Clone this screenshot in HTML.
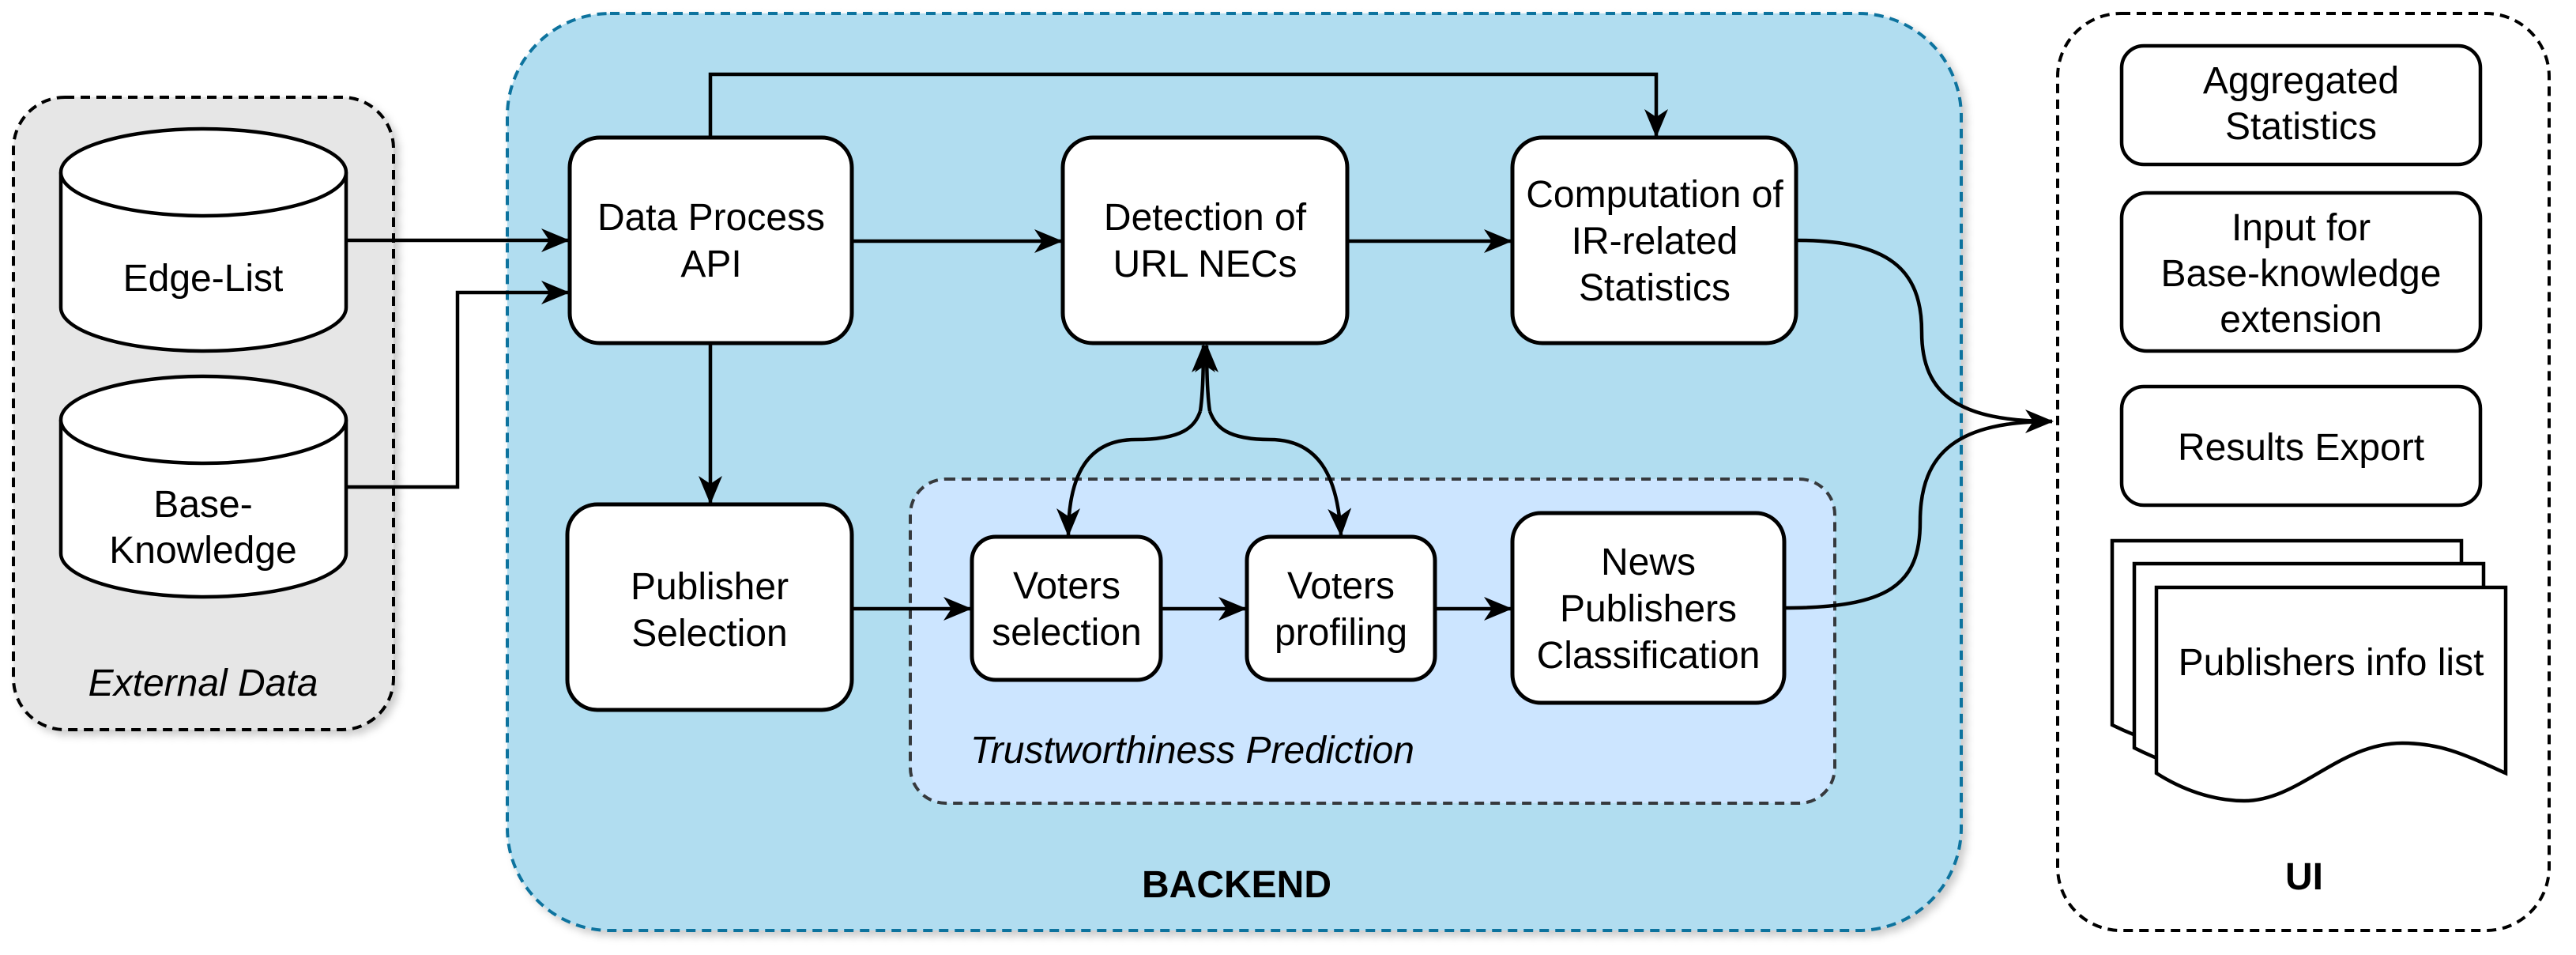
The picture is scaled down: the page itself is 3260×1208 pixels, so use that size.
<!DOCTYPE html>
<html><head><meta charset="utf-8"><style>
html,body{margin:0;padding:0;background:#fff;}
svg{display:block;}
text{font-family:"Liberation Sans",Arial,sans-serif;font-size:48px;fill:#000;text-anchor:middle;}
</style></head><body>
<svg width="3260" height="1208" viewBox="0 0 3260 1208" xmlns="http://www.w3.org/2000/svg">
<defs>
<marker id="a" markerUnits="userSpaceOnUse" markerWidth="36" markerHeight="30" refX="34" refY="15" orient="auto">
<path d="M0,0 L36,15 L0,30 L10,15 Z" fill="#000"/>
</marker>
<filter id="sh" x="-5%" y="-5%" width="112%" height="112%"><feDropShadow dx="6" dy="6" stdDeviation="5" flood-color="#000" flood-opacity="0.2"/></filter>
</defs>

<rect x="17" y="123" width="481" height="800" rx="65" fill="#e6e6e6" stroke="#000" stroke-width="4" stroke-dasharray="12,8" filter="url(#sh)"/>
<rect x="642" y="17" width="1840" height="1160" rx="130" fill="#b1ddf0" stroke="#10739e" stroke-width="4" stroke-dasharray="12,8" filter="url(#sh)"/>
<rect x="2604" y="17" width="622" height="1160" rx="80" fill="#fff" stroke="#000" stroke-width="4" stroke-dasharray="12,8"/>
<rect x="1152" y="606" width="1170" height="410" rx="45" fill="#cce5ff" stroke="#36393d" stroke-width="4" stroke-dasharray="12,8"/>

<g fill="#fff" stroke="#000" stroke-width="4.5">
<path d="M77,218 A180.5,55 0 0 1 438,218 V389 A180.5,55 0 0 1 77,389 Z"/>
<path d="M77,218 A180.5,55 0 0 0 438,218"/>
<path d="M77,531 A180.5,55 0 0 1 438,531 V700 A180.5,55 0 0 1 77,700 Z"/>
<path d="M77,531 A180.5,55 0 0 0 438,531"/>
</g>
<text x="257" y="368">Edge-List</text>
<text x="257" y="654">Base-</text>
<text x="257" y="712">Knowledge</text>
<text x="257" y="880" font-style="italic">External Data</text>

<g fill="#fff" stroke="#000" stroke-width="5">
<rect x="721" y="174" width="357" height="260" rx="38"/>
<rect x="718" y="638" width="360" height="260" rx="38"/>
<rect x="1345" y="174" width="360" height="260" rx="38"/>
<rect x="1914" y="174" width="359" height="260" rx="38"/>
<rect x="1230" y="679" width="239" height="181" rx="30"/>
<rect x="1578" y="679" width="238" height="181" rx="30"/>
<rect x="1914" y="649" width="344" height="240" rx="36"/>
</g>
<g fill="#fff" stroke="#000" stroke-width="4.5">
<rect x="2685" y="58" width="454" height="150" rx="28"/>
<rect x="2685" y="244" width="454" height="200" rx="32"/>
<rect x="2685" y="489" width="454" height="150" rx="28"/>
<path d="M2673,684 H3115 V900 C3050,880 2990,900 2930,930 C2850,965 2760,960 2673,917 Z"/>
<path d="M2701,713 H3143 V930 C3078,910 3018,930 2958,960 C2878,995 2788,990 2701,946 Z"/>
<path d="M2729,743 H3171 V978 C3120,955 3090,940 3040,940 C2960,940 2910,1013 2840,1013 C2800,1013 2760,998 2729,978 Z"/>
</g>

<text x="900" y="291">Data Process</text>
<text x="900" y="350">API</text>
<text x="898" y="758">Publisher</text>
<text x="898" y="817">Selection</text>
<text x="1525" y="291">Detection of</text>
<text x="1525" y="350">URL NECs</text>
<text x="2094" y="262">Computation of</text>
<text x="2094" y="321">IR-related</text>
<text x="2094" y="380">Statistics</text>
<text x="1350" y="757">Voters</text>
<text x="1350" y="816">selection</text>
<text x="1697" y="757">Voters</text>
<text x="1697" y="816">profiling</text>
<text x="2086" y="727">News</text>
<text x="2086" y="786">Publishers</text>
<text x="2086" y="845">Classification</text>
<text x="1228" y="965" font-style="italic" style="text-anchor:start">Trustworthiness Prediction</text>
<text x="1565" y="1135" font-weight="bold">BACKEND</text>

<text x="2912" y="118">Aggregated</text>
<text x="2912" y="176">Statistics</text>
<text x="2912" y="304">Input for</text>
<text x="2912" y="362">Base-knowledge</text>
<text x="2912" y="420">extension</text>
<text x="2912" y="582">Results Export</text>
<text x="2950" y="854">Publishers info list</text>
<text x="2916" y="1125" font-weight="bold">UI</text>

<g fill="none" stroke="#000" stroke-width="4.5">
<path d="M438,304 H719" marker-end="url(#a)"/>
<path d="M438,616 H579 V370 H719" marker-end="url(#a)"/>
<path d="M899,174 V94 H2096 V172" marker-end="url(#a)"/>
<path d="M1078,305 H1343" marker-end="url(#a)"/>
<path d="M1705,305 H1912" marker-end="url(#a)"/>
<path d="M899,434 V636" marker-end="url(#a)"/>
<path d="M1078,770 H1228" marker-end="url(#a)"/>
<path d="M1469,770 H1576" marker-end="url(#a)"/>
<path d="M1816,770 H1912" marker-end="url(#a)"/>
<path d="M1519,520 C1512,540 1497,556 1437,556 C1377,556 1352,600 1352,677" marker-end="url(#a)"/>
<path d="M1519,520 C1522,500 1523,470 1523,437" marker-end="url(#a)"/>
<path d="M1531,520 C1538,540 1553,556 1607,556 C1667,556 1693,600 1697,677" marker-end="url(#a)"/>
<path d="M1531,520 C1528,500 1527,470 1527,437" marker-end="url(#a)"/>
<path d="M2273,304 C2390,304 2432,340 2432,420 C2432,500 2480,533 2597,533" marker-end="url(#a)"/>
<path d="M2258,769 C2390,769 2430,740 2430,660 C2430,570 2480,533 2597,533"/>
</g>
</svg>
</body></html>
